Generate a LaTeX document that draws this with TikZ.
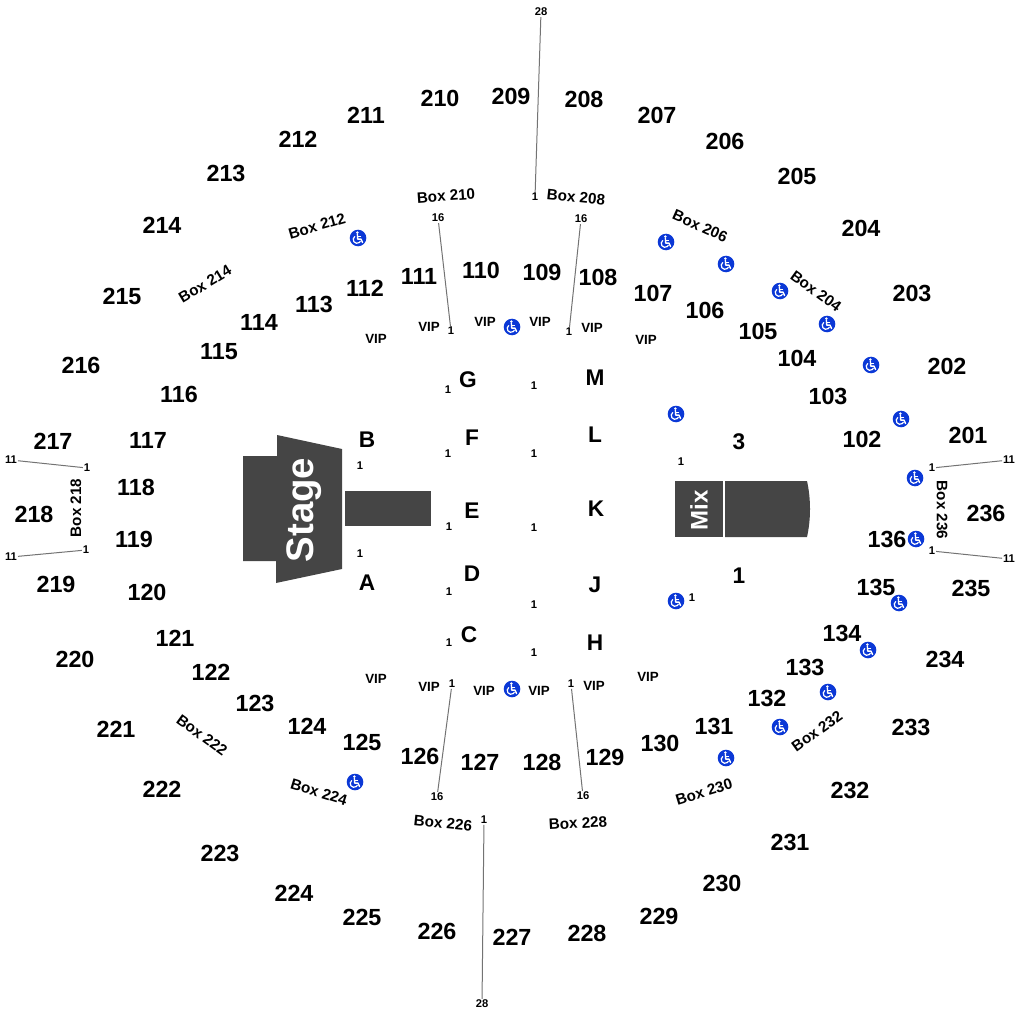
\documentclass[tikz,border=0pt]{standalone}
\usepackage{fontspec}
\setmainfont{Liberation Sans}
\definecolor{wcblue}{HTML}{0B38D6}
\tikzset{
  every node/.style={inner sep=0.6pt,text=black},
  seclabel/.style={font=\fontsize{17.5}{19}\selectfont\bfseries},
  rowlabel/.style={font=\fontsize{17}{19}\selectfont\bfseries},
  boxlabel/.style={font=\fontsize{11.4}{13}\selectfont\bfseries},
  viplabel/.style={font=\fontsize{10}{12}\selectfont\bfseries},
  seatnum/.style={font=\fontsize{8.4}{10}\selectfont\bfseries},
  aisle/.style={draw=black!55,line width=0.75pt},
  solid block/.style={fill=black!73,draw=none},
  wheelchair/.pic={
    \fill[wcblue] (0,0) circle (8.3);
    \fill[white] (-0.6,-5.4) circle (1.4);
    \draw[white,line width=1.05pt,line join=round,line cap=round] (-0.6,-3.6) -- (-0.3,1.1) -- (3,1.1) -- (4.6,4.6);
    \draw[white,line width=0.9pt,line cap=round] (-0.5,-1.2) -- (2.6,-1.2);
    \draw[white,line width=0.9pt] (-1,1.5) ++(235:3.8) arc (235:25:3.8);
  }
}
\begin{document}
\begin{tikzpicture}[x=0.75pt,y=-0.75pt]
\useasboundingbox (0,0) rectangle (1020,1016);
% stage and mix
\fill[solid block] (243,456) -- (277,456) -- (277,435) -- (342,449) -- (342,569) -- (276,583) -- (276,561) -- (243,561) -- cycle;
\fill[solid block] (345,491) rectangle (431,526);
\node[rotate=90,text=white,font=\fontsize{28.8}{30}\selectfont\bfseries] (stage) at (304,510) {Stage};
\fill[solid block] (675,481) rectangle (723,537);
\fill[solid block] (725,481) -- (807,481) .. controls (811,499) and (811,519) .. (807,537) -- (725,537) -- cycle;
\node[rotate=90,text=white,font=\fontsize{18}{20}\selectfont\bfseries] (mix) at (699,510) {Mix};
% section numbers
\foreach \n/\x/\y in {
 210/440/98,209/511/96,208/584/99,207/657/115,206/725/141,205/797/176,204/861/228,203/912/293,202/947/366,201/968/435,
 236/986/513,235/971/588,234/945/659,233/911/727,232/850/790,231/790/842,230/722/883,229/659/916,228/587/933,227/512/937,
 226/437/931,225/362/917,224/294/893,223/220/853,222/162/789,221/116/729,220/75/659,219/56/584,218/34/514,217/53/441,
 216/81/365,215/122/296,214/162/225,213/226/173,212/298/139,211/366/115,
 117/148/440,118/136/487,119/134/539,120/147/592,121/175/638,122/211/672,123/255/703,124/307/726,125/362/742,126/420/756,
 127/480/762,128/542/762,129/605/757,130/660/743,131/714/726,132/767/698,133/805/667,134/842/633,135/876/587,136/887/539,
 102/862/439,103/828/396,104/797/358,105/758/331,106/705/310,107/653/293,108/598/277,109/542/272,110/481/270,111/419/276,
 112/365/288,113/314/304,114/259/322,115/219/352,116/179/394}
  \node[seclabel] (sec\n) at (\x,\y) {\n};
% floor rows
\foreach \n/\x/\y in {G/468/380,F/472/438,E/472/511,D/472/574,C/469/635,M/595/378,L/595/435,K/596/509,J/595/585,H/595/643,B/367/440,A/367/583,3/739/442,1/739/576}
  \node[rowlabel] (row\n) at (\x,\y) {\n};
% box labels
\node[boxlabel,rotate=4] (box210) at (446,196) {Box 210};
\node[boxlabel,rotate=-6] (box208) at (576,197) {Box 208};
\node[boxlabel,rotate=16] (box212) at (317,226) {Box 212};
\node[boxlabel,rotate=31] (box214) at (205,284) {Box 214};
\node[boxlabel,rotate=-24] (box206) at (700,226) {Box 206};
\node[boxlabel,rotate=-36] (box204) at (816,291) {Box 204};
\node[boxlabel,rotate=-90] (box236) at (942,510) {Box 236};
\node[boxlabel,rotate=90] (box218) at (76,508) {Box 218};
\node[boxlabel,rotate=36] (box232) at (817,731) {Box 232};
\node[boxlabel,rotate=17] (box230) at (704,792) {Box 230};
\node[boxlabel,rotate=3] (box228) at (578,823) {Box 228};
\node[boxlabel,rotate=-6] (box226) at (443,823) {Box 226};
\node[boxlabel,rotate=-17] (box224) at (319,792) {Box 224};
\node[boxlabel,rotate=-36] (box222) at (202,735) {Box 222};
% VIP
\foreach \i/\x/\y in {a/376/339,b/429/327,c/485/322,d/540/322,e/592/328,f/646/340,g/376/679,h/429/687,i/484/691,j/539/691,k/594/686,l/648/677}
  \node[viplabel] (vip\i) at (\x,\y) {VIP};
% free seat numbers
\foreach \i/\x/\y in {a/448/390,b/448/454,c/449/527,d/449/592,e/449/643,f/534/386,g/534/454,h/534/528,i/534/605,j/534/653,k/360/466,l/360/554,m/681/462,n/692/598}
  \node[seatnum] (one\i) at (\x,\y) {1};
% connector end labels
\node[seatnum] (t28) at (541,12) {28};
\node[seatnum] (t1) at (535,197) {1};
\node[seatnum] (b1) at (484,820) {1};
\node[seatnum] (b28) at (482,1004) {28};
\node[seatnum] (ul16) at (438,218) {16};
\node[seatnum] (ul1) at (451,331) {1};
\node[seatnum] (ur16) at (581,219) {16};
\node[seatnum] (ur1) at (569,332) {1};
\node[seatnum] (ll1) at (452,684) {1};
\node[seatnum] (ll16) at (437,797) {16};
\node[seatnum] (lr1) at (571,684) {1};
\node[seatnum] (lr16) at (583,796) {16};
\node[seatnum] (lt11) at (11,460) {11};
\node[seatnum] (lt1) at (87,468) {1};
\node[seatnum] (lb11) at (11,557) {11};
\node[seatnum] (lb1) at (86,550) {1};
\node[seatnum] (rt1) at (932,468) {1};
\node[seatnum] (rt11) at (1009,460) {11};
\node[seatnum] (rb1) at (932,551) {1};
\node[seatnum] (rb11) at (1009,559) {11};
% connectors
\draw[aisle] (t28) -- (t1);
\draw[aisle] (b1) -- (b28);
\draw[aisle] (ul16) -- (ul1);
\draw[aisle] (ur16) -- (ur1);
\draw[aisle] (ll1) -- (ll16);
\draw[aisle] (lr1) -- (lr16);
\draw[aisle] (lt11) -- (lt1);
\draw[aisle] (lb11) -- (lb1);
\draw[aisle] (rt1) -- (rt11);
\draw[aisle] (rb1) -- (rb11);
% accessible seating
\foreach \x/\y in {358/238,666/242,726/264,780/291,827/324,871/365,901/419,915/478,916/539,899/603,868/650,828/692,780/727,726/758,355/782,512/327,512/689,676/414,676/601}
  \pic at (\x,\y) {wheelchair};
\end{tikzpicture}
\end{document}
